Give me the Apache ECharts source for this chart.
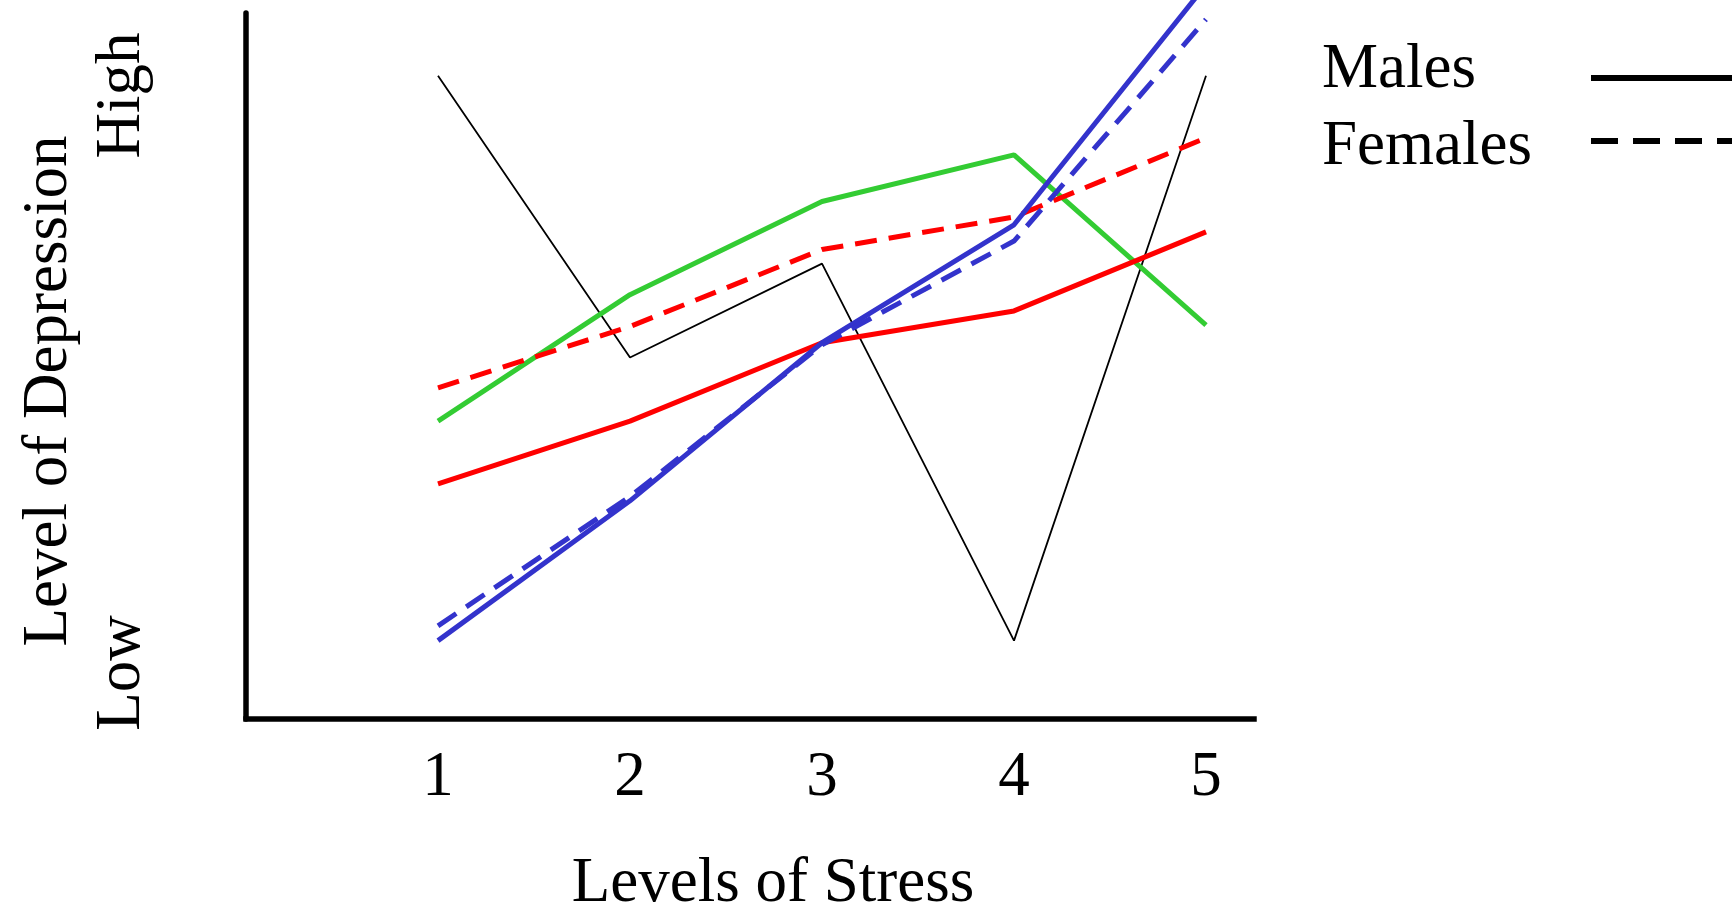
<!DOCTYPE html>
<html>
<head>
<meta charset="utf-8">
<script src="https://cdn.jsdelivr.net/npm/echarts@6/dist/echarts.min.js"></script>
<style>
html,body{margin:0;padding:0;background:#fff;}
#chart{width:1732px;height:921px;}
</style>
</head>
<body>
<div id="chart"></div>
<script>
// ---- data ----
var stressLevels = [1, 2, 3, 4, 5];
var xTickLabels = ['1', '2', '3', '4', '5'];
var yTickValues = [6.5, 88.3];
var yTickLabels = ['Low', 'High'];
var legendNames = ['Males', 'Females'];

var blackMales   = [91.1, 51.2, 64.5, 11.1, 91.1];
var greenMales   = [42.2, 60.1, 73.3, 79.9, 55.8];
var redMales     = [33.3, 42.2, 53.3, 57.8, 69.0];
var redFemales   = [46.9, 55.6, 66.5, 71.1, 82.3];
var blueMales    = [11.1, 30.9, 53.3, 70.0, 104];
var blueFemales  = [13.2, 31.5, 53.0, 67.7, 99.1];

var FONT = 'Liberation Serif';
var FS = 63;

function pairs(vals) {
  return stressLevels.map(function (x, i) { return [x, vals[i]]; });
}

function lineSeries(name, vals, color, width, type) {
  return {
    name: name,
    type: 'line',
    data: pairs(vals),
    symbol: 'none',
    clip: false,
    silent: true,
    lineStyle: { color: color, width: width, type: type || 'solid' },
    itemStyle: { color: color }
  };
}

function legendFor(name, top, pad) {
  return {
    data: [name],
    orient: 'vertical',
    align: 'right',
    left: 1322,
    top: top,
    padding: 0,
    itemWidth: 170,
    itemHeight: 2,
    selectedMode: false,
    itemStyle: { opacity: 0 },
    lineStyle: { width: 6 },
    formatter: '{t|{name}}',
    textStyle: {
      color: '#000',
      fontFamily: FONT,
      fontSize: FS,
      rich: {
        t: { width: 264, align: 'left', fontFamily: FONT, fontSize: FS, lineHeight: 63,
             color: '#000', padding: pad }
      }
    }
  };
}

var chart = echarts.init(document.getElementById('chart'), null, { renderer: 'canvas' });

var option = {
  animation: false,
  backgroundColor: '#fff',
  grid: { left: 246, right: 478, top: 13, bottom: 188, containLabel: false },
  legend: [
    legendFor(legendNames[0], 38.5, [0, 0, 16, 0]),
    legendFor(legendNames[1], 103.5, [12, 0, 0, 0])
  ],
  xAxis: {
    type: 'value',
    min: 0,
    max: 5.25,
    interval: 1,
    name: 'Levels of Stress',
    nameLocation: 'middle',
    nameGap: 134,
    nameTextStyle: { color: '#000', fontFamily: FONT, fontSize: FS, padding: [0, 0, 0, 46] },
    axisLine: { show: true, onZero: false, lineStyle: { color: '#000', width: 5.5, cap: 'square' } },
    axisTick: { show: false },
    splitLine: { show: false },
    axisLabel: {
      customValues: stressLevels,
      formatter: function (v) { return xTickLabels[stressLevels.indexOf(v)] || ''; },
      color: '#000',
      fontFamily: FONT,
      fontSize: FS,
      margin: 28
    }
  },
  yAxis: {
    type: 'value',
    min: 0,
    max: 100,
    name: 'Level of Depression',
    nameLocation: 'middle',
    nameGap: 165,
    nameTextStyle: { color: '#000', fontFamily: FONT, fontSize: FS, padding: [0, 50, 0, 0] },
    axisLine: { show: true, onZero: false, lineStyle: { color: '#000', width: 5.5 } },
    axisTick: { show: false },
    splitLine: { show: false },
    axisLabel: {
      customValues: yTickValues,
      formatter: function (v) { return yTickLabels[yTickValues.indexOf(v)] || ''; },
      rotate: 90,
      color: '#000',
      fontFamily: FONT,
      fontSize: FS,
      margin: 92
    }
  },
  series: [
    lineSeries('Males', [], '#000', 6, 'solid'),
    lineSeries('Females', [], '#000', 6, [27, 15]),
    lineSeries('black', blackMales, '#000', 1.8, 'solid'),
    lineSeries('green', greenMales, '#33cc33', 5, 'solid'),
    lineSeries('redM', redMales, '#ff0000', 5, 'solid'),
    lineSeries('redF', redFemales, '#ff0000', 5, [22, 12]),
    lineSeries('blueM', blueMales, '#3333cc', 5, 'solid'),
    lineSeries('blueF', blueFemales, '#3333cc', 5, [22, 12])
  ]
};

chart.setOption(option);
</script>
</body>
</html>
